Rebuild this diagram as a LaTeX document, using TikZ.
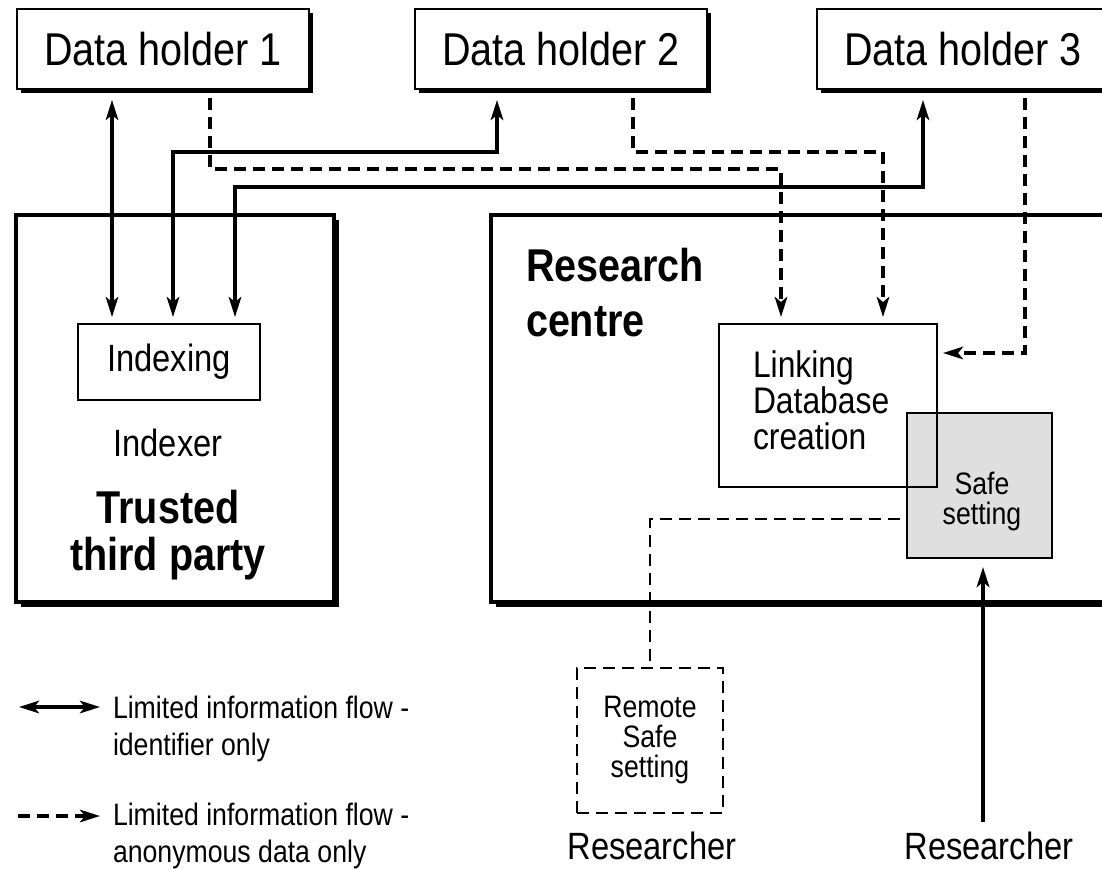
\documentclass[tikz,border=0pt]{standalone}
\usepackage{fontspec}
\setmainfont{Liberation Sans}[FakeStretch=0.86]
\usetikzlibrary{arrows.meta,shadows}
\begin{document}
\begin{tikzpicture}[x=1pt,y=-1pt,
  every node/.style={inner sep=0pt, outer sep=0pt, text=black},
  dh/.style={draw, line width=2pt, fill=white, minimum width=292pt, minimum height=80pt,
    font=\fontsize{46}{52}\selectfont,
    drop shadow={shadow xshift=3.5pt, shadow yshift=-3.5pt, fill=black, opacity=1}},
  big/.style={draw, line width=4pt, fill=white,
    drop shadow={shadow xshift=5pt, shadow yshift=-5pt, fill=black, opacity=1}},
  inbox/.style={draw, line width=1.8pt},
  con/.style={line width=3.5pt, >={Stealth[length=20pt,width=12.5pt,inset=5pt]}},
  dsh/.style={con, dash pattern=on 12pt off 7pt},
  thindsh/.style={line width=2pt, dash pattern=on 12pt off 7pt},
  midtxt/.style={font=\fontsize{38}{40}\selectfont},
  smalltxt/.style={font=\fontsize{31}{30}\selectfont, align=center},
  boldtxt/.style={font=\bfseries\fontsize{46}{47}\selectfont},
  legend/.style={font=\fontsize{31}{37}\selectfont, align=left, anchor=west}
]
\useasboundingbox (0,0) rectangle (1102,868);

% containers
\node[big, minimum width=318pt, minimum height=387pt] (ttp) at (175,408.5) {};
\node[big, minimum width=624pt, minimum height=387pt] (rc) at (803,408.5) {};

% data holders
\node[dh] (dh1) at (163,49) {Data holder 1};
\node[dh] (dh2) at (561,49) {Data holder 2};
\node[dh] (dh3) at (963,49) {Data holder 3};

% trusted third party contents
\node[inbox, minimum width=182pt, minimum height=76pt, midtxt] (idx) at (169,362) {Indexing};
\node[midtxt] (indexer) at (168,443) {Indexer};
\node[boldtxt, align=center] (ttptxt) at (168,535) {Trusted\\third party};

% research centre contents
\node[boldtxt, align=left, anchor=west, font=\bfseries\fontsize{46}{55}\selectfont] (rctxt) at (526,293) {Research\\centre};
\node[draw, line width=2.2pt, fill=gray!25, minimum width=145pt, minimum height=145pt] (safe) at (979.5,485.5) {};
\node[smalltxt] (safetxt) at (982,501) {Safe\\setting};
\node[inbox, minimum width=218pt, minimum height=163pt,
  label={[font=\fontsize{37}{36}\selectfont, align=left, text width=150pt, yshift=5pt]center:{Linking\\Database\\creation}}] (link) at (828,405.5) {};

% remote safe setting
\node[thindsh, draw, minimum width=146pt, minimum height=145pt, smalltxt] (remote) at (650,740.5) {Remote\\Safe\\setting};

% researchers
\node[midtxt] (r1) at (652,846) {Researcher};
\node[midtxt] (r2) at (989,846) {Researcher};

% identifier flows
\draw[con,<->,shorten <=11pt, shorten >=7pt] (112,0 |- dh1.south) -- (112,0 |- idx.north);
\draw[con,<->,shorten <=7pt, shorten >=11pt] (173,0 |- idx.north) |- (497,152) -- (497,0 |- dh2.south);
\draw[con,<->,shorten <=7pt, shorten >=11pt] (235,0 |- idx.north) |- (923,187) -- (923,0 |- dh3.south);

% anonymous data flows
\draw[dsh,->,shorten <=9pt, shorten >=7pt] (210,0 |- dh1.south) |- (781,169) -- (781,0 |- link.north);
\draw[dsh,->,shorten <=9pt, shorten >=7pt] (633,0 |- dh2.south) |- (883,152) -- (883,0 |- link.north);
\draw[dsh,->,shorten <=9pt, shorten >=6pt] (1025,0 |- dh3.south) |- (link.east |- 0,353);

% remote access
\draw[thindsh, shorten <=7pt] (safe.west |- 0,519) -| (remote.north);
\draw[line width=4pt, >={Stealth[length=20pt,width=12.5pt,inset=5pt]}, ->, shorten <=10pt, shorten >=9pt] (983,0 |- r2.north) -- (983,0 |- safe.south);

% legend
\node[legend] (leg1) at (113,729) {Limited information flow -\\identifier only};
\node[legend] (leg2) at (113,836) {Limited information flow -\\anonymous data only};
\coordinate (la1) at (19,707);
\coordinate (lb1) at (100,707);
\coordinate (la2) at (18,816);
\coordinate (lb2) at (100,816);
\draw[con,<->] (la1) -- (lb1);
\draw[dsh,->] (la2) -- (lb2);
\end{tikzpicture}
\end{document}
